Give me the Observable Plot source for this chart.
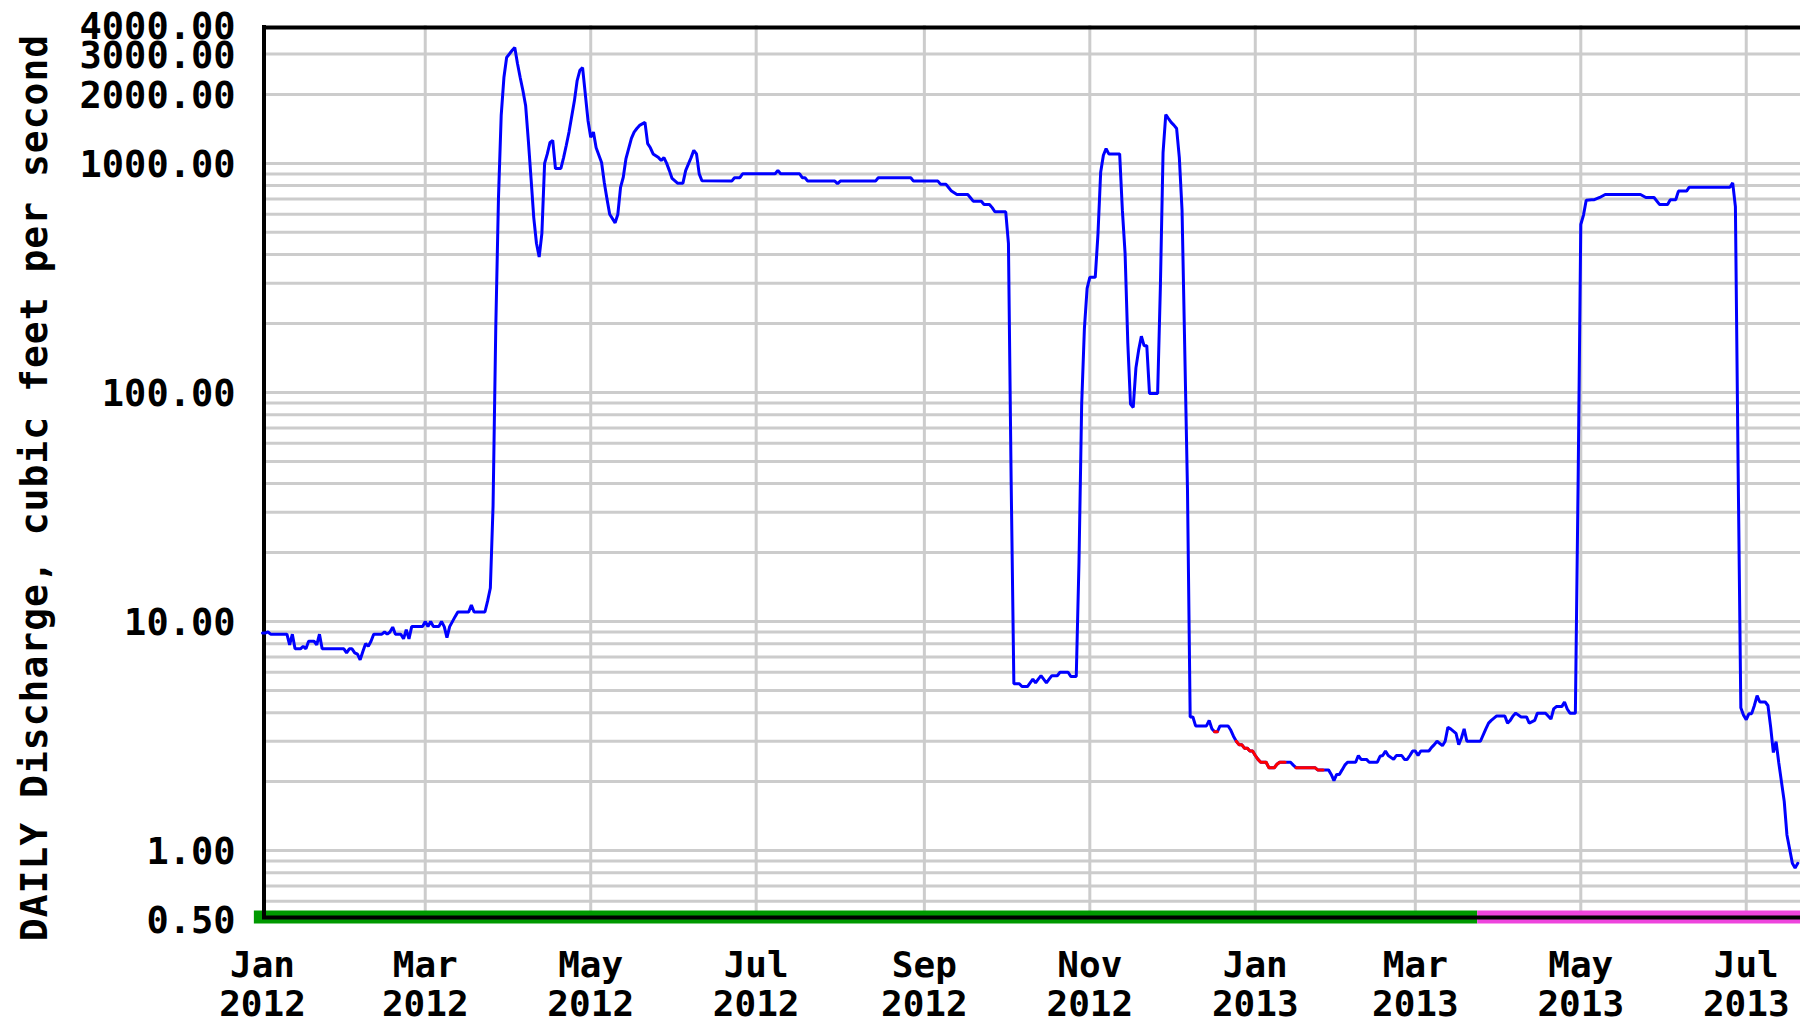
<!DOCTYPE html>
<html>
<head>
<meta charset="utf-8">
<script src="https://cdn.jsdelivr.net/npm/d3@7"></script>
<script src="https://cdn.jsdelivr.net/npm/@observablehq/plot@0.6"></script>
<style>
  html, body { margin: 0; padding: 0; background: #ffffff; }
  #chart svg { display: block; }
</style>
</head>
<body>
<div id="chart"></div>
<script>
// ---- Data (daily discharge, cfs) ----
const dates = [
  "2012-01-01","2012-01-02","2012-01-03","2012-01-04","2012-01-10","2012-01-11","2012-01-12","2012-01-13","2012-01-15","2012-01-16",
  "2012-01-17","2012-01-18","2012-01-20","2012-01-21","2012-01-22","2012-01-23","2012-01-31","2012-02-01","2012-02-02","2012-02-03",
  "2012-02-04","2012-02-05","2012-02-06","2012-02-07","2012-02-08","2012-02-09","2012-02-10","2012-02-11","2012-02-14","2012-02-15",
  "2012-02-16","2012-02-17","2012-02-18","2012-02-19","2012-02-21","2012-02-22","2012-02-23","2012-02-24","2012-02-25","2012-02-29",
  "2012-03-01","2012-03-02","2012-03-03","2012-03-04","2012-03-06","2012-03-07","2012-03-08","2012-03-09","2012-03-10","2012-03-12",
  "2012-03-13","2012-03-17","2012-03-18","2012-03-19","2012-03-23","2012-03-24","2012-03-25","2012-03-26","2012-03-27","2012-03-28",
  "2012-03-29","2012-03-30","2012-03-31","2012-04-02","2012-04-03","2012-04-04","2012-04-05","2012-04-06","2012-04-07","2012-04-08",
  "2012-04-09","2012-04-10","2012-04-11","2012-04-12","2012-04-13","2012-04-14","2012-04-15","2012-04-16","2012-04-17","2012-04-18",
  "2012-04-20","2012-04-21","2012-04-22","2012-04-23","2012-04-25","2012-04-26","2012-04-27","2012-04-28","2012-04-30","2012-05-01",
  "2012-05-02","2012-05-03","2012-05-05","2012-05-06","2012-05-07","2012-05-08","2012-05-10","2012-05-11","2012-05-12","2012-05-13",
  "2012-05-14","2012-05-16","2012-05-17","2012-05-18","2012-05-19","2012-05-21","2012-05-22","2012-05-23","2012-05-24","2012-05-26",
  "2012-05-27","2012-05-28","2012-05-29","2012-05-30","2012-05-31","2012-06-02","2012-06-04","2012-06-05","2012-06-07","2012-06-08",
  "2012-06-09","2012-06-10","2012-06-11","2012-06-22","2012-06-23","2012-06-25","2012-06-26","2012-07-08","2012-07-09","2012-07-10",
  "2012-07-17","2012-07-18","2012-07-19","2012-07-20","2012-07-30","2012-07-31","2012-08-01","2012-08-14","2012-08-15","2012-08-27",
  "2012-08-28","2012-09-06","2012-09-07","2012-09-09","2012-09-10","2012-09-11","2012-09-13","2012-09-17","2012-09-18","2012-09-19",
  "2012-09-22","2012-09-23","2012-09-25","2012-09-26","2012-09-27","2012-10-01","2012-10-02","2012-10-03","2012-10-04","2012-10-06",
  "2012-10-07","2012-10-09","2012-10-10","2012-10-11","2012-10-12","2012-10-13","2012-10-14","2012-10-16","2012-10-17","2012-10-18",
  "2012-10-20","2012-10-21","2012-10-24","2012-10-25","2012-10-27","2012-10-28","2012-10-29","2012-10-30","2012-10-31","2012-11-01",
  "2012-11-03","2012-11-04","2012-11-05","2012-11-06","2012-11-07","2012-11-08","2012-11-12","2012-11-13","2012-11-14","2012-11-15",
  "2012-11-16","2012-11-17","2012-11-18","2012-11-19","2012-11-20","2012-11-21","2012-11-22","2012-11-23","2012-11-26","2012-11-27",
  "2012-11-28","2012-11-29","2012-11-30","2012-12-01","2012-12-02","2012-12-03","2012-12-04","2012-12-05","2012-12-07","2012-12-08",
  "2012-12-09","2012-12-10","2012-12-14","2012-12-15","2012-12-16","2012-12-17","2012-12-18","2012-12-19","2012-12-22","2012-12-23",
  "2012-12-24","2012-12-25","2012-12-26","2012-12-27","2012-12-28","2012-12-29","2012-12-30","2012-12-31","2013-01-01","2013-01-02",
  "2013-01-03","2013-01-05","2013-01-06","2013-01-08","2013-01-09","2013-01-10","2013-01-12","2013-01-14","2013-01-15","2013-01-16",
  "2013-01-23","2013-01-24","2013-01-26","2013-01-28","2013-01-29","2013-01-30","2013-01-31","2013-02-01","2013-02-02","2013-02-03",
  "2013-02-04","2013-02-07","2013-02-08","2013-02-09","2013-02-11","2013-02-12","2013-02-15","2013-02-16","2013-02-17","2013-02-18",
  "2013-02-19","2013-02-21","2013-02-22","2013-02-24","2013-02-25","2013-02-26","2013-02-27","2013-02-28","2013-03-01","2013-03-02",
  "2013-03-03","2013-03-06","2013-03-07","2013-03-08","2013-03-09","2013-03-11","2013-03-12","2013-03-13","2013-03-14","2013-03-16",
  "2013-03-17","2013-03-18","2013-03-19","2013-03-20","2013-03-25","2013-03-27","2013-03-28","2013-03-29","2013-03-31","2013-04-03",
  "2013-04-04","2013-04-05","2013-04-06","2013-04-07","2013-04-09","2013-04-11","2013-04-12","2013-04-14","2013-04-15","2013-04-18",
  "2013-04-20","2013-04-21","2013-04-22","2013-04-24","2013-04-25","2013-04-26","2013-04-27","2013-04-29","2013-04-30","2013-05-01",
  "2013-05-02","2013-05-03","2013-05-05","2013-05-06","2013-05-08","2013-05-10","2013-05-23","2013-05-25","2013-05-28","2013-05-30",
  "2013-06-02","2013-06-03","2013-06-05","2013-06-06","2013-06-09","2013-06-10","2013-06-25","2013-06-26","2013-06-27","2013-06-28",
  "2013-06-29","2013-06-30","2013-07-01","2013-07-02","2013-07-03","2013-07-04","2013-07-05","2013-07-06","2013-07-08","2013-07-09",
  "2013-07-10","2013-07-11","2013-07-12","2013-07-13","2013-07-14","2013-07-15","2013-07-16","2013-07-18","2013-07-19","2013-07-20"
];
const discharge = [
  8.9, 8.9, 9.0, 8.8, 8.8, 7.9, 8.8, 7.6, 7.6, 7.8,
  7.6, 8.2, 8.2, 7.9, 8.8, 7.6, 7.6, 7.3, 7.6, 7.6,
  7.3, 7.2, 6.8, 7.4, 8.0, 7.8, 8.2, 8.8, 8.8, 9.0,
  8.8, 9.0, 9.45, 8.8, 8.8, 8.4, 9.2, 8.4, 9.5, 9.5,
  10.0, 9.5, 10.0, 9.5, 9.5, 10.0, 9.5, 8.5, 9.5, 10.5,
  11.0, 11.0, 11.8, 11.0, 11.0, 12.3, 14, 32, 192, 711,
  1620, 2370, 2900, 3110, 3210, 2730, 2370, 2080, 1790, 1260,
  860, 580, 448, 390, 495, 1000, 1100, 1235, 1260, 950,
  950, 1060, 1200, 1370, 1880, 2300, 2550, 2620, 1540, 1300,
  1370, 1170, 1010, 825, 700, 600, 550, 600, 786, 870,
  1050, 1285, 1370, 1420, 1465, 1510, 1220, 1170, 1100, 1060,
  1030, 1060, 1000, 930, 860, 820, 820, 930, 1060, 1140,
  1100, 900, 840, 837, 866, 866, 901, 901, 932, 901,
  901, 866, 866, 837, 837, 815, 837, 837, 866, 866,
  837, 837, 810, 810, 783, 757, 732, 732, 708, 684,
  684, 662, 662, 641, 615, 615, 448, 41, 5.35, 5.35,
  5.2, 5.2, 5.4, 5.6, 5.4, 5.6, 5.8, 5.4, 5.6, 5.8,
  5.8, 6.0, 6.0, 5.75, 5.75, 18, 89, 190, 285, 318,
  318, 490, 915, 1085, 1160, 1100, 1100, 625, 405, 165,
  89, 86, 128, 153, 176, 160, 160, 99, 99, 285,
  1115, 1635, 1570, 1510, 1470, 1420, 1060, 625, 38, 3.83,
  3.83, 3.5, 3.5, 3.7, 3.4, 3.3, 3.3, 3.5, 3.5, 3.35,
  3.15, 3.0, 2.9, 2.9, 2.8, 2.8, 2.72, 2.72, 2.6, 2.5,
  2.43, 2.43, 2.3, 2.3, 2.38, 2.43, 2.43, 2.43, 2.36, 2.3,
  2.3, 2.25, 2.25, 2.25, 2.15, 2.02, 2.15, 2.15, 2.25, 2.36,
  2.43, 2.43, 2.6, 2.5, 2.5, 2.43, 2.43, 2.58, 2.6, 2.72,
  2.6, 2.5, 2.6, 2.6, 2.5, 2.5, 2.6, 2.72, 2.72, 2.6,
  2.72, 2.72, 2.82, 2.9, 3.0, 2.87, 3.0, 3.45, 3.4, 3.25,
  2.9, 3.1, 3.4, 3.0, 3.0, 3.4, 3.6, 3.7, 3.87, 3.87,
  3.6, 3.7, 3.87, 3.98, 3.83, 3.83, 3.6, 3.7, 3.98, 3.98,
  3.75, 4.15, 4.25, 4.25, 4.45, 4.15, 3.98, 3.98, 39, 541,
  595, 690, 694, 694, 710, 732, 732, 710, 710, 662,
  662, 694, 694, 757, 757, 787, 787, 822, 648, 47.6,
  4.2, 3.9, 3.73, 3.96, 3.96, 4.3, 4.75, 4.45, 4.45, 4.3,
  3.46, 2.68, 2.99, 2.41, 1.99, 1.64, 1.17, 0.88, 0.84, 0.88
];
// Estimated (ice-affected) periods drawn in red
const estimatedStart = ["2012-12-17", "2012-12-25", "2013-01-16"];
const estimatedEnd   = ["2012-12-18", "2013-01-12", "2013-01-26"];
// Approval status bar along the bottom
const approvalStatus = ["Approved", "Provisional"];
const approvalStart  = ["2011-12-29", "2013-03-24"];
const approvalEnd    = ["2013-03-24", "2013-07-21"];
const approvalColors = ["#009900", "#ee44dd"];
// Axes
const yTickValues = [0.5, 1, 10, 100, 1000, 2000, 3000, 4000];
const yGridValues = [0.6, 0.7, 0.8, 0.9, 1, 2, 3, 4, 5, 6, 7, 8, 9, 10, 20, 30, 40, 50, 60, 70, 80, 90,
                     100, 200, 300, 400, 500, 600, 700, 800, 900, 1000, 2000, 3000];
const xTickValues = ["2012-01-01","2012-03-01","2012-05-01","2012-07-01","2012-09-01","2012-11-01",
                     "2013-01-01","2013-03-01","2013-05-01","2013-07-01"];
const xDomain = ["2012-01-01", "2013-07-21"];
const yDomain = [0.5, 4000];
const yLabel = "DAILY Discharge, cubic feet per second";

// ---- Build ----
const parse = d3.utcParse("%Y-%m-%d");
const series = dates.map((d, i) => ({date: parse(d), value: discharge[i]}));
const estimated = [];
estimatedStart.forEach((s, k) => {
  const a = parse(s), b = parse(estimatedEnd[k]);
  series.forEach(p => { if (p.date >= a && p.date <= b) estimated.push({...p, seg: k}); });
});
const approval = approvalStatus.map((s, i) => ({status: s, start: parse(approvalStart[i]), end: parse(approvalEnd[i]), color: approvalColors[i]}));
const xTicks = xTickValues.map(parse);
const fmtX = d3.utcFormat("%b\n%Y");
const FONT = "'DejaVu Sans Mono', 'Liberation Mono', monospace";

const chart = Plot.plot({
  width: 1800,
  height: 1025,
  marginLeft: 262,
  marginRight: 0,
  marginTop: 25,
  marginBottom: 106,
  style: {fontFamily: FONT, fontWeight: "bold", background: "#ffffff", color: "#000000"},
  x: {type: "utc", domain: xDomain.map(parse), axis: null},
  y: {type: "log", domain: yDomain, axis: null},
  marks: [
    Plot.ruleY(yGridValues, {stroke: "#cccccc", strokeWidth: 3}),
    Plot.ruleX(xTicks.slice(1), {stroke: "#cccccc", strokeWidth: 3}),
    Plot.ruleY(approval, {y: () => yDomain[0], x1: "start", x2: "end", stroke: "color", strokeWidth: 13, dy: -2.5}),
    Plot.ruleY([yDomain[0]], {stroke: "#000000", strokeWidth: 4, dy: -2}),
    Plot.ruleY([yDomain[1]], {stroke: "#000000", strokeWidth: 4, dy: 2}),
    Plot.ruleX([parse(xDomain[0])], {stroke: "#000000", strokeWidth: 4, dx: 1.5}),
    Plot.line(series, {x: "date", y: "value", stroke: "#0000ff", strokeWidth: 3, strokeLinejoin: "miter"}),
    Plot.line(estimated, {x: "date", y: "value", z: "seg", stroke: "#ff0000", strokeWidth: 3}),
    Plot.text(yTickValues, {y: d => d, frameAnchor: "left", dx: -27, dy: 2, textAnchor: "end",
      text: d => d.toFixed(2), fontSize: 37, fontWeight: "bold", fill: "#000000"}),
    Plot.text(xTicks, {x: d => d, frameAnchor: "bottom", dy: 30, lineAnchor: "top", lineHeight: 1.08,
      text: d => fmtX(d), fontSize: 36, fontWeight: "bold", fill: "#000000"}),
    Plot.text([yLabel], {frameAnchor: "left", rotate: -90, dx: -228, dy: 15, textAnchor: "middle",
      text: d => d, fontSize: 38, fontWeight: "bold", fill: "#000000"})
  ]
});
// slightly wider letter spacing to match the reference's bitmap font
d3.select(chart).selectAll("text").filter(function () { return this.textContent === yLabel; })
  .style("letter-spacing", "1px");
document.getElementById("chart").appendChild(chart);
</script>
</body>
</html>
